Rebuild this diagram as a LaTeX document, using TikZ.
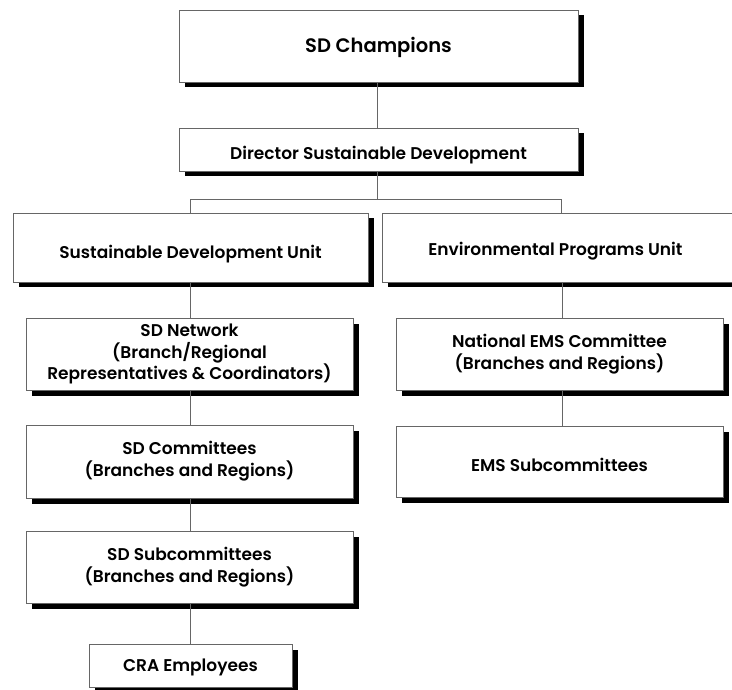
\documentclass[tikz,border=0pt]{standalone}
\usepackage{fontspec}
\setmainfont{Poppins}[BoldFont={Poppins SemiBold}]
\usetikzlibrary{shadows}
\begin{document}
\begin{tikzpicture}[x=1pt,y=-1pt,
  box/.style={draw=black!60, line width=0.9pt, fill=white, inner sep=0pt, align=center,
    font=\bfseries\fontsize{17}{21.7}\selectfont,
    general shadow={fill=black, shadow xshift=5.5pt, shadow yshift=-5.5pt}},
  tpos/.style={text height=#1, text depth=0pt},
  conn/.style={draw=black!60, line width=0.9pt}]
\useasboundingbox (0,0) rectangle (732,690);
\node[box, tpos=13.7pt, minimum width=399pt, minimum height=72pt, font=\bfseries\fontsize{19.5}{22}\selectfont] (champ) at (378.5,46) {SD Champions};
\node[box, tpos=20pt, minimum width=399pt, minimum height=43pt] (dir) at (378.5,149.5) {Director Sustainable Development};
\node[box, tpos=22pt, minimum width=355pt, minimum height=69pt] (sdu) at (190.5,247.5) {Sustainable Development Unit};
\node[box, tpos=15pt, minimum width=360pt, minimum height=69pt, anchor=west] (epu) at (382,247.5) {\hspace*{-14pt}Environmental Programs Unit};
\node[box, minimum width=327pt, minimum height=72pt] (sdn) at (189.5,354) {SD Network\\(Branch/Regional\\Representatives \& Coordinators)};
\node[box, minimum width=327pt, minimum height=72pt] (nems) at (559.5,354) {National EMS Committee\\(Branches and Regions)};
\node[box, minimum width=327pt, minimum height=73pt] (sdc) at (189.5,461.5) {SD Committees\\(Branches and Regions)};
\node[box, tpos=20.6pt, minimum width=327pt, minimum height=71pt] (emss) at (559.5,461.5) {EMS Subcommittees};
\node[box, minimum width=327pt, minimum height=72pt] (sds) at (189.5,567) {SD Subcommittees\\(Branches and Regions)};
\node[box, tpos=12pt, minimum width=203pt, minimum height=43pt] (cra) at (190.5,665.5) {CRA Employees};
\coordinate (bar) at (377,199);
\draw[conn] (champ.south -| bar) -- (dir.north -| bar);
\draw[conn] (dir.south -| bar) -- (bar);
\draw[conn] (sdu.north -| 190,0) -- (190,199) -- (561,199) -- (epu.north -| 561,0);
\draw[conn] (sdu.south -| 190,0) -- (sdn.north -| 190,0);
\draw[conn] (sdn.south -| 190,0) -- (sdc.north -| 190,0);
\draw[conn] (sdc.south -| 190,0) -- (sds.north -| 190,0);
\draw[conn] (sds.south -| 190,0) -- (cra.north -| 190,0);
\draw[conn] (epu.south -| 562,0) -- (nems.north -| 562,0);
\draw[conn] (nems.south -| 562,0) -- (emss.north -| 562,0);
\end{tikzpicture}
\end{document}
